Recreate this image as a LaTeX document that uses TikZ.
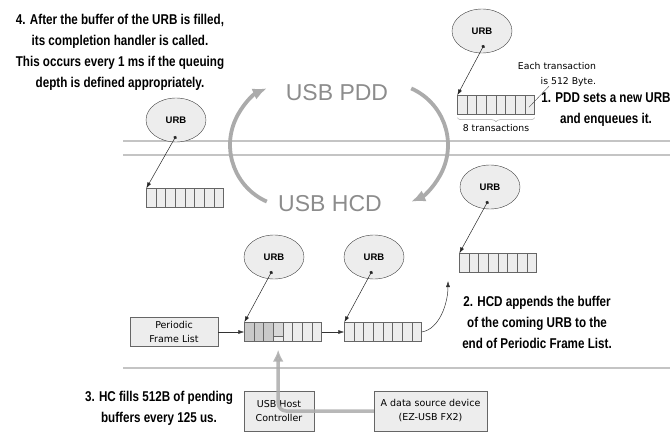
\documentclass[tikz,border=0pt]{standalone}
\usepackage{fontspec}
\setmainfont{Liberation Sans}
\newfontfamily\stepfont[FakeStretch=0.82]{Liberation Sans}
\newfontfamily\thinfont{DejaVu Sans}
\usetikzlibrary{arrows.meta, positioning, calc, shapes.geometric, decorations.pathreplacing}

\definecolor{namegray}{HTML}{8C8C8C}
\definecolor{arcgray}{HTML}{ABABAB}
\definecolor{sepgray}{HTML}{C4C4C4}
\definecolor{cellgray}{HTML}{EDEDED}
\definecolor{usedgray}{HTML}{C9C9C9}
\definecolor{partgray}{HTML}{D8D8D8}

\begin{document}
\begin{tikzpicture}[
    x=1pt, y=-1pt,
    urbnode/.style={ellipse, draw=black!75, fill=cellgray, minimum width=60pt, minimum height=44pt, inner sep=0pt, font=\bfseries\fontsize{9.5}{12}\selectfont},
    bufnode/.style={draw=black!60, fill=cellgray, minimum width=77pt, minimum height=19pt, inner sep=0pt},
    cellline/.style={draw=black!60, line width=0.5pt},
    boxnode/.style={draw=black!60, fill=cellgray, align=center, inner sep=0pt, font=\thinfont\fontsize{9.5}{14}\selectfont},
    smalltext/.style={align=right, inner sep=0pt, font=\thinfont\fontsize{9.3}{15}\selectfont},
    stepnote/.style={align=center, inner sep=0pt, font=\stepfont\bfseries\fontsize{14.2}{21}\selectfont},
    seprule/.style={draw=sepgray, line width=1.5pt},
    urbptr/.style={{Circle[length=3.5pt]}-{Latex[length=6pt,width=4pt]}, black!85, line width=0.5pt},
    ptr/.style={-{Latex[length=6pt,width=4pt]}, black!80, line width=0.5pt},
    cyclearrow/.style={-{Latex[length=14pt,width=12pt]}, draw=arcgray, line width=3.8pt},
    fillarrow/.style={-{Latex[length=12pt,width=11pt]}, draw=arcgray, line width=3.5pt, rounded corners=8pt, opacity=0.85},
    layername/.style={text=namegray, inner sep=0pt, font=\fontsize{23}{23}\selectfont},
]
\useasboundingbox (0,0) rectangle (672,433);

% layer borders
\draw[seprule] (123,141) -- (670,141);
\draw[seprule] (123,155) -- (670,155);
\draw[seprule] (123,368) -- (670,368);

% USB PDD / USB HCD cycle
\node[layername] (pdd) at (337,93) {USB PDD};
\node[layername] (hcd) at (330,204) {USB HCD};
\coordinate (pddout) at (411.2,88.4);
\coordinate (hcdout) at (266.8,201.6);
\draw[cyclearrow] (pddout) arc[start angle=66, end angle=-66, radius=62pt];
\draw[cyclearrow] (hcdout) arc[start angle=246, end angle=114, radius=62pt];

% URBs and their buffers
\node[urbnode] (urbnew) at (482,31) {URB};
\node[bufnode] (bufnew) at (496,105) {};
\node[urbnode] (urbdone) at (176,120) {URB};
\node[bufnode] (bufdone) at (185,198) {};
\node[urbnode] (urbmove) at (490,187) {URB};
\node[bufnode] (bufmove) at (498,263) {};
\node[urbnode] (urbfirst) at (274,257) {URB};
\node[bufnode] (buffirst) at (283,332) {};
\node[urbnode] (urbsecond) at (374,257) {URB};
\node[bufnode] (bufsecond) at (383,332) {};

% cells already filled by the HC
\fill[usedgray] (buffirst.north west) rectangle ($(buffirst.south west)!3/8!(buffirst.south east)$);
\fill[partgray] ($(buffirst.north west)!3/8!(buffirst.north east)$) rectangle ($(buffirst.south west)!4/8!(buffirst.south east)+(0,-5)$);
\draw[cellline] ($(buffirst.south west)!3/8!(buffirst.south east)+(0,-5)$) -- ($(buffirst.south west)!4/8!(buffirst.south east)+(0,-5)$);
\draw[cellline] (buffirst.north west) rectangle (buffirst.south east);

\foreach \b in {bufnew,bufdone,bufmove,buffirst,bufsecond}
  \foreach \i in {1,...,7}
    \draw[cellline] ($(\b.north west)!\i/8!(\b.north east)$) -- ($(\b.south west)!\i/8!(\b.south east)$);

\draw[urbptr] ([shift={(2,14)}]urbnew.center) -- (bufnew.north west);
\draw[urbptr] ([shift={(0,16)}]urbdone.center) -- (bufdone.north west);
\draw[urbptr] ([shift={(-2,14)}]urbmove.center) -- (bufmove.north west);
\draw[urbptr] ([shift={(-2,14)}]urbfirst.center) -- (buffirst.north west);
\draw[urbptr] ([shift={(-2,14)}]urbsecond.center) -- (bufsecond.north west);

% transaction size
\draw[decorate, decoration={brace, mirror, amplitude=4pt}, draw=black!35, line width=0.5pt] ([yshift=-3pt]bufnew.south west) -- ([yshift=-3pt]bufnew.south east);
\node[font=\thinfont\fontsize{9.3}{11}\selectfont, inner sep=0pt] (transcount) at (496,128) {8 transactions};
\node[smalltext] (transsize) at (557,74) {Each transaction\\is 512 Byte.};
\coordinate (lastcell) at ($(bufnew.north west)!7.4/8!(bufnew.north east)+(0,12)$);
\draw[black!70, line width=0.4pt] ([xshift=-8pt]transsize.south) -- (lastcell);

% periodic frame list
\node[boxnode, minimum width=88pt, minimum height=29pt] (framelist) at (174,332) {Periodic\\Frame List};
\draw[ptr] (framelist) -- (buffirst);
\draw[ptr] (buffirst) -- (bufsecond);
\coordinate (appendtip) at (448,281);
\draw[ptr] (bufsecond.east) .. controls +(18,-3) and +(0,22) .. (appendtip);

% host controller and device
\node[boxnode, minimum width=70pt, minimum height=40pt] (hostctl) at (279,411) {USB Host\\Controller};
\node[boxnode, minimum width=113pt, minimum height=40pt] (device) at (430.5,411) {A data source device\\(EZ-USB FX2)};
\coordinate (filltip) at ($(buffirst.south west)!3.5/8!(buffirst.south east)+(0,8)$);
\draw[fillarrow] (device.west) -| (filltip);

% steps
\node[stepnote] (stepone) at (606,110) {1. PDD sets a new URB\\and enqueues it.};
\node[stepnote] (steptwo) at (537,322) {2. HCD appends the buffer\\of the coming URB to the\\end of Periodic Frame List.};
\node[stepnote] (stepthree) at (159,408) {3. HC fills 512B of pending\\buffers every 125 us.};
\node[stepnote] (stepfour) at (120,52) {4. After the buffer of the URB is filled,\\its completion handler is called.\\This occurs every 1 ms if the queuing\\depth is defined appropriately.};

\end{tikzpicture}
\end{document}
